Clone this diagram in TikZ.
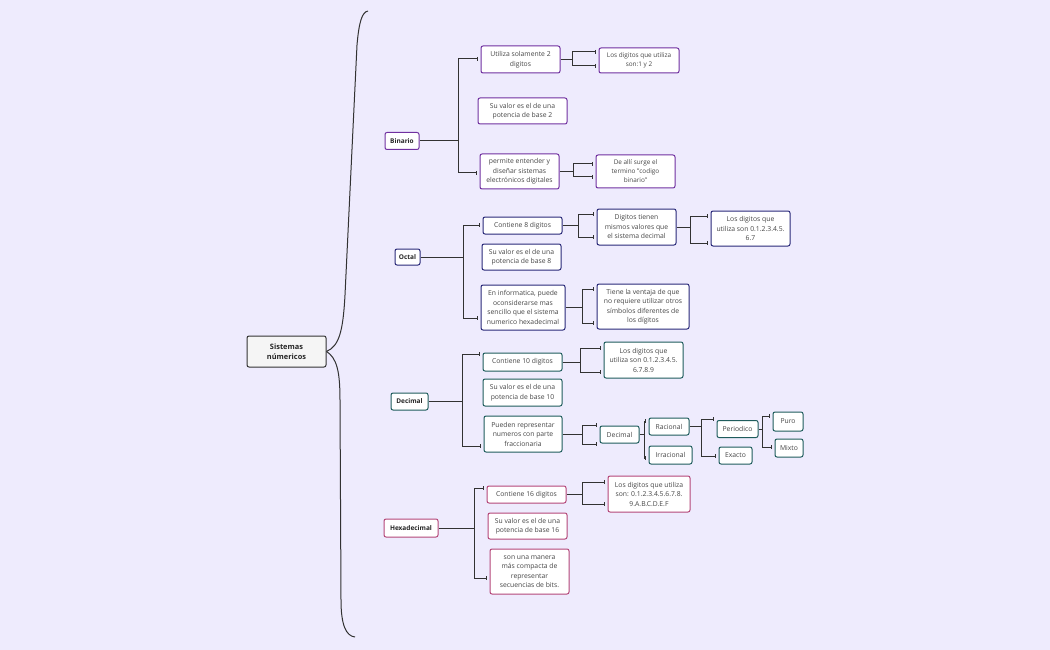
\documentclass[tikz,border=0pt]{standalone}
\usepackage{fontspec}
\setmainfont{Open Sans}
\usetikzlibrary{arrows.meta}
\definecolor{bg}{RGB}{238,235,253}
\definecolor{pur}{RGB}{112,48,160}
\definecolor{nav}{RGB}{40,40,120}
\definecolor{tea}{RGB}{30,92,92}
\definecolor{pnk}{RGB}{180,70,120}
\definecolor{txt}{RGB}{70,70,70}
\definecolor{ln}{RGB}{50,50,50}
\definecolor{rootfill}{RGB}{245,245,245}
\newcommand{\elbow}[6]{%
  \draw[conn] (#1.east) -- (#2,0 |- #1.east) coordinate (tmpj);
  \draw[conn,tipb] (tmpj) |- (#3.west |- 0,#4);
  \draw[conn,tipb] (tmpj) |- (#5.west |- 0,#6);
}
\begin{document}
\begin{tikzpicture}[x=1pt,y=-1pt,
  box/.style={draw, fill=white, rounded corners=2pt, line width=1pt, inner sep=0pt, align=center, font=\fontsize{6.8}{9.5}\selectfont, text=txt},
  sm/.style={font=\fontsize{6.4}{9}\selectfont},
  hd/.style={box, font=\fontsize{6.5}{8}\selectfont\bfseries, text=black!85},
  sz/.style 2 args={minimum width=#1, minimum height=#2},
  conn/.style={draw=ln, line width=1pt},
  tipb/.style={-{Bar[width=4pt,line width=0.8pt]}, shorten >=2.5pt},
]
\fill[bg] (0,0) rectangle (1050,650);
\useasboundingbox (0,0) rectangle (1050,650);

% root
\node[box, draw=ln, fill=rootfill, text=black!85, font=\fontsize{7.4}{10.5}\selectfont\bfseries, sz={79}{31}] (root) at (286.5,351.5) {Sistemas\\númericos};

% main branches
\node[hd, draw=pur, sz={34}{17}] (bin) at (402,141) {Binario};
\node[hd, draw=nav, sz={25}{16}] (oct) at (407.5,257) {Octal};
\node[hd, draw=tea, sz={37}{17}] (dec) at (409.5,401.5) {Decimal};
\node[hd, draw=pnk, sz={54}{18}] (hex) at (411,528) {Hexadecimal};

% brace
\draw[conn] (root.east) .. controls (339,346) and (343,332) .. (345,295) -- (357,45) .. controls (359,22) and (362,12) .. (368,11);
\draw[conn] (root.east) .. controls (337,358) and (340,372) .. (340,400) -- (341,600) .. controls (341,625) and (346,636) .. (355,637);

% Binario
\node[box, draw=pur, sz={79}{27}] (b1) at (520.5,59.5) {Utiliza solamente 2\\digitos};
\node[box, draw=pur, sz={89}{26}] (b2) at (522.5,111) {Su valor es el de una\\potencia de base 2};
\node[box, draw=pur, sz={79}{35}] (b3) at (519.5,171.5) {permite entender y\\diseñar sistemas\\electrónicos digitales};
\node[box, draw=pur, sz={80}{25}, sm] (b1a) at (639,60.5) {Los digitos que utiliza\\son:1 y 2};
\node[box, draw=pur, sz={79}{33}, sm] (b3a) at (635.5,171.5) {De allí surge el\\termino "codigo\\binario"};
\elbow{bin}{458}{b1}{59}{b3}{173}
\elbow{b1}{572}{b1a}{52}{b1a}{66}
\elbow{b3}{573}{b3a}{164}{b3a}{177}

% Octal
\node[box, draw=nav, sz={79}{17}] (o1) at (522.5,225.5) {Contiene 8 digitos};
\node[box, draw=nav, sz={79}{26}] (o2) at (521.5,257) {Su valor es el de una\\potencia de base 8};
\node[box, draw=nav, sz={84}{45}] (o3) at (523,307.5) {En informatica, puede\\oconsiderarse mas\\sencillo que el sistema\\numerico hexadecimal};
\node[box, draw=nav, sz={79}{36}] (o1a) at (636.5,227) {Digitos tienen\\mismos valores que\\el sistema decimal};
\node[box, draw=nav, sz={79}{35}] (o1b) at (750.5,228.5) {Los digitos que\\utiliza son 0.1.2.3.4.5.\\6.7};
\node[box, draw=nav, sz={92}{45}] (o3a) at (643,306.5) {Tiene la ventaja de que\\no requiere utilizar otros\\símbolos diferentes de\\los dígitos};
\elbow{oct}{463}{o1}{225}{o3}{318}
\elbow{o1}{578}{o1a}{214}{o1a}{237}
\elbow{o1a}{690}{o1b}{216}{o1b}{243}
\elbow{o3}{582}{o3a}{289}{o3a}{323}

% Decimal
\node[box, draw=tea, sz={79}{18}] (d1) at (522.5,362) {Contiene 10 digitos};
\node[box, draw=tea, sz={79}{27}] (d2) at (522.5,392.5) {Su valor es el de una\\potencia de base 10};
\node[box, draw=tea, sz={78}{36}] (d3) at (523,434) {Pueden representar\\numeros con parte\\fraccionaria};
\node[box, draw=tea, sz={79}{36}] (d1a) at (643.5,360) {Los digitos que\\utiliza son 0.1.2.3.4.5.\\6.7.8.9};
\node[box, draw=tea, sz={39}{17}] (d3a) at (619.5,434.5) {Decimal};
\node[box, draw=tea, sz={40}{17}] (rac) at (669,426.5) {Racional};
\node[box, draw=tea, sz={43}{18}] (irr) at (670.5,455) {Irracional};
\node[box, draw=tea, sz={41}{17}] (per) at (737.5,429) {Periodico};
\node[box, draw=tea, sz={33}{17}] (exa) at (735.5,455.5) {Exacto};
\node[box, draw=tea, sz={30}{19}] (pur) at (788,421.5) {Puro};
\node[box, draw=tea, sz={28}{18}] (mix) at (789,448) {Mixto};
\elbow{dec}{462}{d1}{354}{d3}{446}
\elbow{d1}{580}{d1a}{348}{d1a}{372}
\elbow{d3}{582}{d3a}{425}{d3a}{444}
\elbow{d3a}{644}{rac}{421}{irr}{458}
\elbow{rac}{701}{per}{419}{exa}{456}
\elbow{per}{762}{pur}{416}{mix}{447}

% Hexadecimal
\node[box, draw=pnk, sz={79}{17}] (h1) at (526.5,494.5) {Contiene 16 digitos};
\node[box, draw=pnk, sz={79}{26}] (h2) at (527.5,526) {Su valor es el de una\\potencia de base 16};
\node[box, draw=pnk, sz={79}{45}] (h3) at (529.5,571.5) {son una manera\\más compacta de\\representar\\secuencias de bits.};
\node[box, draw=pnk, sz={82}{36}] (h1a) at (649,494) {Los digitos que utiliza\\son: 0.1.2.3.4.5.6.7.8.\\9.A.B.C.D.E.F};
\elbow{hex}{474}{h1}{488}{h3}{578}
\elbow{h1}{582}{h1a}{482}{h1a}{504}
\end{tikzpicture}
\end{document}
